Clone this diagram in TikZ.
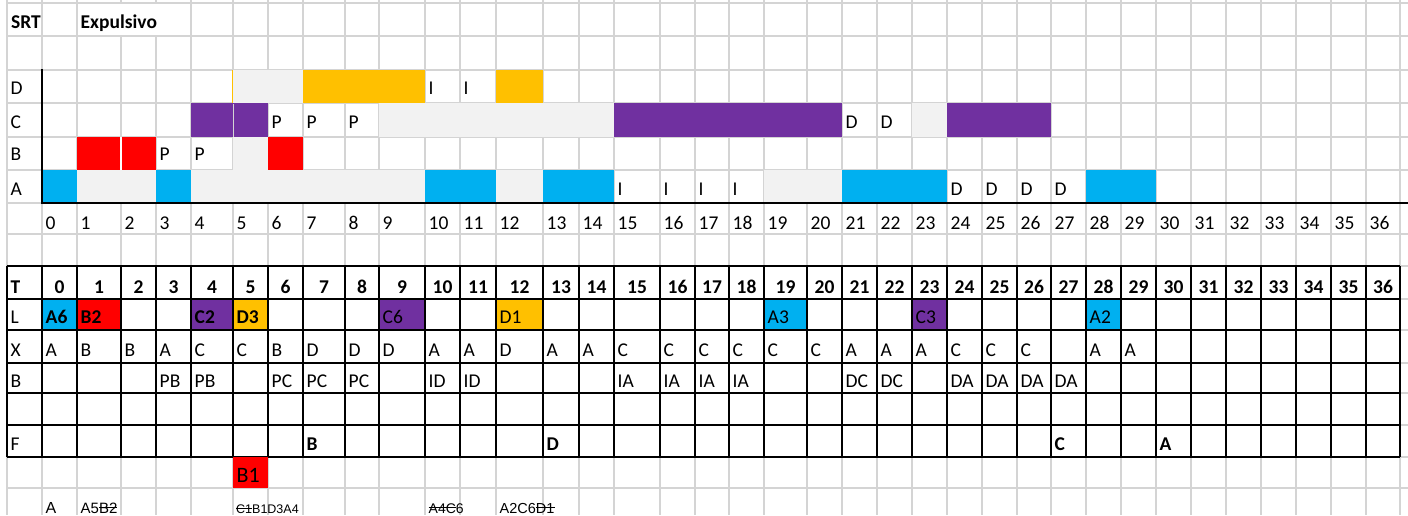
\documentclass[tikz,border=0pt]{standalone}
\usepackage{fontspec}
\setmainfont{Carlito}
\newfontfamily\arialf{Liberation Sans}
\definecolor{xblue}{HTML}{00B0F0}
\definecolor{xred}{HTML}{FF0000}
\definecolor{xpurple}{HTML}{7030A0}
\definecolor{xorange}{HTML}{FFC000}
\definecolor{xlight}{HTML}{F2F2F2}
\definecolor{xgrid}{HTML}{D4D4D4}
\def\colx{{7,42,77,121,156,191,233,268,303,345,379,425,460,496,543,579,614,660,695,729,764,807,842,877,912,947,982,1017,1051,1086,1121,1156,1191,1226,1261,1296,1331,1366,1400}}
% fill cells from column #1 to column #2 between y #3 and #4 with colour #5
\newcommand\cellfill[5]{\pgfmathsetmacro\xa{\colx[#1+1]}\pgfmathsetmacro\xb{\colx[#2+2]}\fill[#5] (\xa,#3) rectangle (\xb,#4);}
% text: name, column, baseline, style, text
\newcommand\celltext[5]{\pgfmathsetmacro\xa{\colx[#2+1]}\pgfmathsetmacro\xa{\xa+3.5}\node[txt,#4] (#1) at (\xa,#3) {#5};}
\newcommand\strk[1]{\setbox0\hbox{#1}\rlap{\raisebox{0.34em}{\rule{\wd0}{0.07em}}}\box0\relax}
\begin{document}
\begin{tikzpicture}[x=1pt,y=-1pt,
  gridline/.style={xgrid,line width=1.3pt},
  tabline/.style={black,line width=1.6pt},
  axisline/.style={black,line width=2pt},
  txt/.style={anchor=base west,inner sep=0pt,font=\fontsize{19.5}{22}\selectfont},
  btxt/.style={font=\fontsize{19.5}{22}\selectfont\bfseries},
  small/.style={font=\arialf\fontsize{#1}{#1}\selectfont}]
\useasboundingbox (0,0) rectangle (1408,515);
\fill[white] (0,0) rectangle (1408,515);
% light spreadsheet grid
\foreach \y in {3,36,70,103,137,170,203,234,266,299,330,363,393,425,457,488}
  \draw[gridline] (7,\y) -- (1408,\y);
\foreach \x in {7,42,77,121,156,191,233,268,303,345,379,425,460,496,543,579,614,660,695,729,764,807,842,877,912,947,982,1017,1051,1086,1121,1156,1191,1226,1261,1296,1331,1366,1400}
  \draw[gridline] (\x,0) -- (\x,515);
\fill[white] (78,4) rectangle (190,35);
% ---- Gantt chart ----
% D row
\cellfill{5}{6}{70}{103}{xlight}
\cellfill{7}{9}{70}{103}{xorange}
\cellfill{12}{12}{70}{103}{xorange}
% C row
\cellfill{4}{5}{103}{137}{xpurple}
\cellfill{9}{14}{103}{137}{xlight}
\cellfill{15}{20}{103}{137}{xpurple}
\cellfill{23}{23}{103}{137}{xlight}
\cellfill{24}{26}{103}{137}{xpurple}
% B row
\cellfill{1}{2}{137}{170}{xred}
\cellfill{5}{5}{137}{170}{xlight}
\cellfill{6}{6}{137}{170}{xred}
% A row
\cellfill{0}{0}{170}{203}{xblue}
\cellfill{1}{2}{170}{203}{xlight}
\cellfill{3}{3}{170}{203}{xblue}
\cellfill{4}{9}{170}{203}{xlight}
\cellfill{10}{11}{170}{203}{xblue}
\cellfill{12}{12}{170}{203}{xlight}
\cellfill{13}{14}{170}{203}{xblue}
\cellfill{19}{20}{170}{203}{xlight}
\cellfill{21}{23}{170}{203}{xblue}
\cellfill{28}{29}{170}{203}{xblue}
% separators
\draw[white,line width=1.5pt] (121,137) -- (121,170);
\draw[xgrid,line width=1pt] (233,104) -- (233,137);
\draw[xorange,line width=1pt] (232.8,70) -- (232.8,103);
% axes
\draw[axisline] (42,69) -- (42,203) -- (1408,203);
% header texts
\node[txt,btxt] (srt) at (11,28) {SRT};
\celltext{expl}{1}{28}{btxt}{Expulsivo}
\celltext{rD}{-1}{94}{}{D}
\celltext{rC}{-1}{128}{}{C}
\celltext{rB}{-1}{160}{}{B}
\celltext{rA}{-1}{195}{}{A}
\foreach \c in {10,11} {\celltext{dI\c}{\c}{94}{}{I}}
\foreach \c in {6,7,8} {\celltext{cP\c}{\c}{128}{}{P}}
\foreach \c in {21,22} {\celltext{cD\c}{\c}{128}{}{D}}
\foreach \c in {3,4} {\celltext{bP\c}{\c}{160}{}{P}}
\foreach \c in {15,16,17,18} {\celltext{aI\c}{\c}{195}{}{I}}
\foreach \c in {24,25,26,27} {\celltext{aD\c}{\c}{195}{}{D}}
\foreach \i in {0,...,36} {\celltext{n\i}{\i}{229}{}{\i}}
% ---- table ----
\fill[white] (7,266) rectangle (1400,457);
\cellfill{0}{0}{299}{330}{xblue}
\cellfill{1}{1}{299}{330}{xred}
\cellfill{4}{4}{299}{330}{xpurple}
\cellfill{5}{5}{299}{330}{xorange}
\cellfill{9}{9}{299}{330}{xpurple}
\cellfill{12}{12}{299}{330}{xorange}
\cellfill{19}{19}{299}{330}{xblue}
\cellfill{23}{23}{299}{330}{xpurple}
\cellfill{28}{28}{299}{330}{xblue}
\foreach \y in {266,299,330,363,393,425,457}
  \draw[tabline] (7,\y) -- (1400,\y);
\foreach \x in {7,42,77,121,156,191,233,268,303,345,379,425,460,496,543,579,614,660,695,729,764,807,842,877,912,947,982,1017,1051,1086,1121,1156,1191,1226,1261,1296,1331,1366,1400}
  \draw[tabline] (\x,266) -- (\x,457);
% T row
\celltext{tT}{-1}{293}{btxt}{T}
\foreach \i in {0,...,36} {
  \pgfmathsetmacro\xl{\colx[\i+1]}
  \pgfmathsetmacro\xr{\colx[\i+2]}
  \pgfmathsetmacro\xc{(\xl+\xr)/2}
  \node[txt,btxt,anchor=base] (t\i) at (\xc,293) {\i};}
% L row
\celltext{tL}{-1}{323}{}{L}
\foreach \c/\l in {0/A6,1/B2,4/C2,5/D3} {\celltext{l\c}{\c}{323}{btxt}{\l}}
\foreach \c/\l in {9/C6,12/D1,19/A3,23/C3,28/A2} {\celltext{l\c}{\c}{323}{}{\l}}
% X row
\celltext{tX}{-1}{356}{}{X}
\foreach \c/\l in {0/A,1/B,2/B,3/A,4/C,5/C,6/B,7/D,8/D,9/D,10/A,11/A,12/D,13/A,14/A,15/C,16/C,17/C,18/C,19/C,20/C,21/A,22/A,23/A,24/C,25/C,26/C,28/A,29/A}
  {\celltext{x\c}{\c}{356}{}{\l}}
% B row
\celltext{tB}{-1}{387}{}{B}
\foreach \c/\l in {3/PB,4/PB,6/PC,7/PC,8/PC,10/ID,11/ID,15/IA,16/IA,17/IA,18/IA,21/DC,22/DC,24/DA,25/DA,26/DA,27/DA}
  {\celltext{b\c}{\c}{387}{}{\l}}
% F row
\celltext{tF}{-1}{450}{}{F}
\foreach \c/\l in {7/B,13/D,27/C,30/A} {\celltext{f\c}{\c}{450}{btxt}{\l}}
% below the table
\cellfill{5}{5}{457}{488}{xred}
\celltext{bone}{5}{482}{font=\fontsize{22}{24}\selectfont}{B1}
\celltext{q0}{0}{513}{small=16}{A}
\celltext{q1}{1}{513}{small=15}{A5\strk{B2}}
\node[txt,small=12.5] (q5) at (236,513) {\strk{C1}B1D3A4};
\celltext{q10}{10}{513}{small=14}{\strk{A4C}6}
\celltext{q12}{12}{513}{small=14.5}{A2C6\strk{D1}}
\end{tikzpicture}
\end{document}
